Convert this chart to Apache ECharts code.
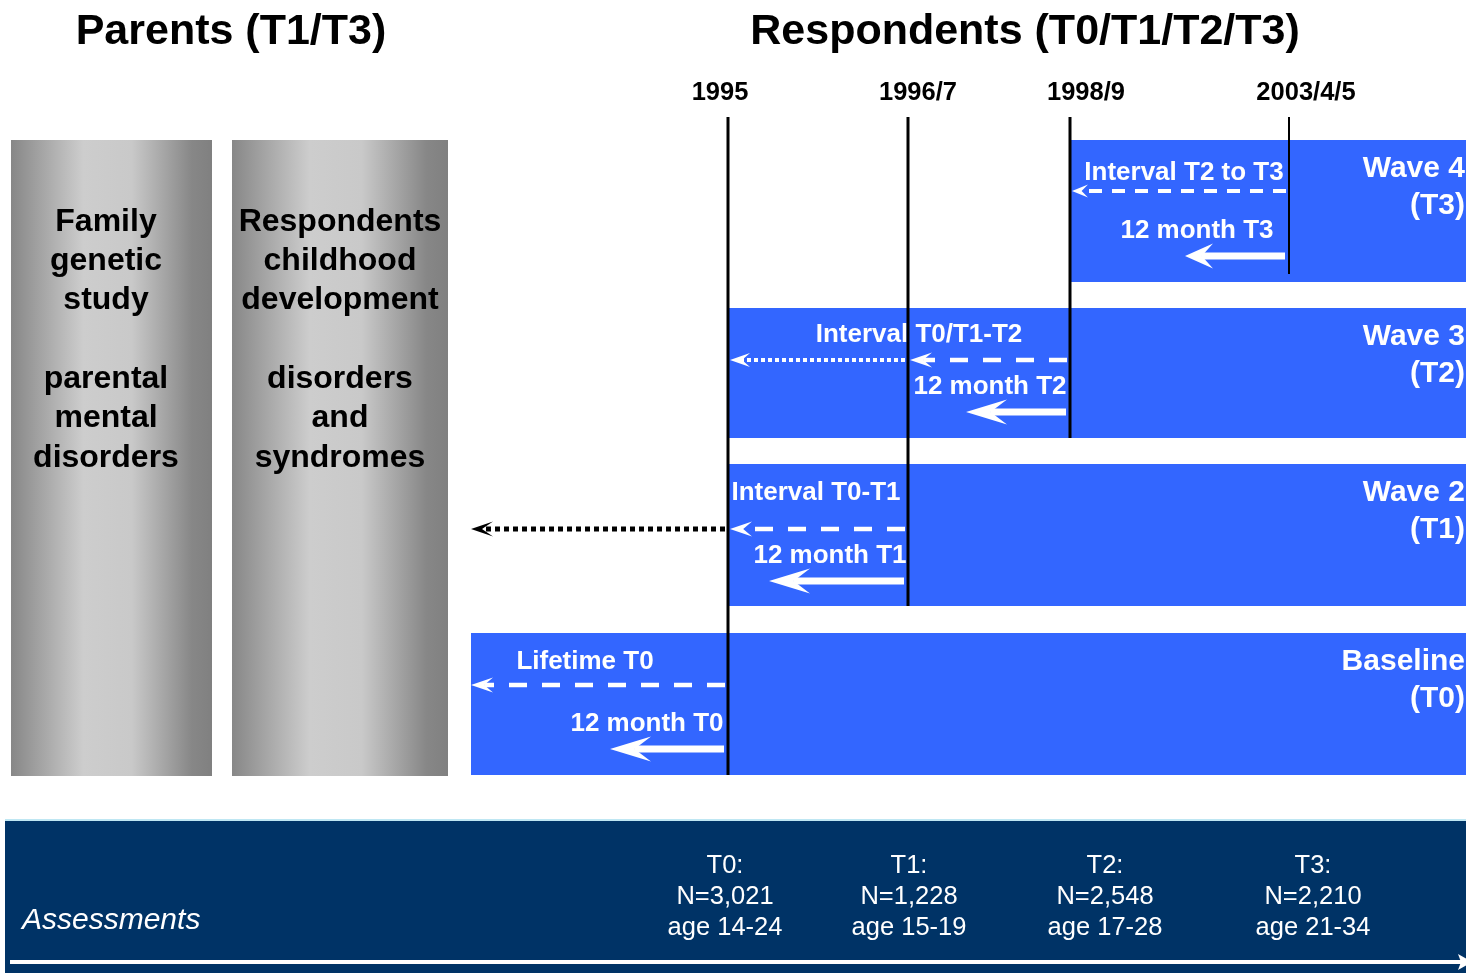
<!DOCTYPE html>
<html>
<head>
<meta charset="utf-8">
<script src="https://cdn.jsdelivr.net/npm/echarts@6/dist/echarts.min.js"></script>
<style>
  html, body { margin: 0; padding: 0; background: #ffffff; }
  #chart { width: 1466px; height: 973px; }
</style>
</head>
<body>
<div id="chart"></div>
<script>
// ---------------- study design data ----------------
const milestones = ['1995', '1996/7', '1998/9', '2003/4/5'];
const waveNames = ['Wave 4', 'Wave 3', 'Wave 2', 'Baseline'];
const waveCodes = ['(T3)', '(T2)', '(T1)', '(T0)'];
const waveStart = ['1998/9', '1995', '1995', 'lifetime'];        // where each wave's band begins
const waveAssessed = ['2003/4/5', '1998/9', '1996/7', '1995'];   // when each wave was interviewed
const intervalLabels = ['Interval T2 to T3', 'Interval T0/T1-T2', 'Interval T0-T1', 'Lifetime T0'];
const twelveMonthLabels = ['12 month T3', '12 month T2', '12 month T1', '12 month T0'];
// recall windows: wave, from, back to, line kind
const recallSpans = [
  ['Wave 4', '2003/4/5', '1998/9', 'dashedCompact'],
  ['Wave 3', '1998/9', '1996/7', 'dashed'],
  ['Wave 3', '1996/7', '1995', 'dotted'],
  ['Wave 2', '1996/7', '1995', 'dashed'],
  ['Wave 2', '1995', 'lifetime', 'dottedBlack'],
  ['Baseline', '1995', 'lifetime', 'dashed']
];
const assessmentCodes = ['T0:', 'T1:', 'T2:', 'T3:'];
const sampleSizes = ['N=3,021', 'N=1,228', 'N=2,548', 'N=2,210'];
const ageRanges = ['age 14-24', 'age 15-19', 'age 17-28', 'age 21-34'];
const parentPanels = [
  ['Family', 'genetic', 'study', '', 'parental', 'mental', 'disorders'],
  ['Respondents', 'childhood', 'development', '', 'disorders', 'and', 'syndromes']
];

// ---------------- layout (schematic axis units) ----------------
const timeX = { lifetime: 471, '1995': 728, '1996/7': 908, '1998/9': 1070, '2003/4/5': 1289, end: 1466 };
const rowSpan = [[140, 282], [308, 438], [464, 606], [633, 775]];
const recallY = [191, 360, 529, 685];
const intervalLabelPos = [[1184, 173], [919, 335], [816, 493], [585, 662]];
const twelveLabelPos = [[1197, 231], [990, 387], [830, 556], [647, 724]];
const twelveArrowY = [256, 412, 581, 749];
const twelveArrowLen = [100, 100, 135, 114];
const yearLabelX = [720, 918, 1086, 1306];
const lineEndInset = [0, 0, 0, 8];
const panelSpan = [[11, 212], [232, 448]];
const panelTextX = [106, 340];
const assessmentX = [725, 909, 1105, 1313];

const FONT = '"Liberation Sans", Arial, Helvetica, sans-serif';
const BLUE = '#3366ff';
const NAVY = '#003366';

const arrowKinds = {
  dashed:        { color: '#fff', width: 4.5, dash: [18, 15], headL: 22, headH: 15, notch: 0.6 },
  dashedCompact: { color: '#fff', width: 4,   dash: [13, 10], headL: 16, headH: 13, notch: 0.6 },
  dotted:        { color: '#fff', width: 4,   dash: [4, 3],   headL: 20, headH: 14, notch: 0.6 },
  dottedBlack:   { color: '#000', width: 5,   dash: [5, 4],   headL: 22, headH: 15, notch: 0.5 },
  solid:         { color: '#fff', width: 7,   dash: null,     headL: 41, headH: 25, notch: 0.6 },
  solidCompact:  { color: '#fff', width: 7,   dash: null,     headL: 28, headH: 25, notch: 0.6 }
};

// arrows: [tail, tip, y, kind]
const arrowData = recallSpans.map(function (s) {
  const w = waveNames.indexOf(s[0]);
  const tail = timeX[s[1]] - 3;
  const tip = timeX[s[2]] + (s[2] === 'lifetime' ? 0 : 2);
  return [tail, tip, recallY[w], s[3]];
}).concat(waveAssessed.map(function (m, w) {
  const tail = timeX[m] - 4;
  return [tail, tail - twelveArrowLen[w], twelveArrowY[w], w === 0 ? 'solidCompact' : 'solid'];
}));

function txt(x, y, text, size, opts) {
  opts = opts || {};
  return {
    type: 'text', x: x, y: y,
    style: {
      text: text,
      fill: opts.fill || '#fff',
      font: (opts.italic ? 'italic ' : '') + (opts.bold === false ? 'normal ' : 'bold ') + size + 'px ' + FONT,
      align: opts.align || 'center',
      verticalAlign: 'middle',
      lineHeight: opts.lineHeight
    }
  };
}

const chart = echarts.init(document.getElementById('chart'), null, { renderer: 'canvas' });

chart.setOption({
  animation: false,
  backgroundColor: '#ffffff',
  grid: { left: 0, right: 0, top: 0, bottom: 0 },
  xAxis: { type: 'value', min: 0, max: 1466, show: false },
  yAxis: { type: 'value', min: 0, max: 973, inverse: true, show: false },
  graphic: [
    { type: 'text', x: 231, y: 32, z: 100, style: { text: 'Parents (T1/T3)', font: 'bold 43px ' + FONT, fill: '#000', align: 'center', verticalAlign: 'middle' } },
    { type: 'text', x: 1025, y: 32, z: 100, style: { text: 'Respondents (T0/T1/T2/T3)', font: 'bold 43px ' + FONT, fill: '#000', align: 'center', verticalAlign: 'middle' } }
  ],
  series: [
    // grey panels for the parent study
    {
      type: 'custom', name: 'parents', z: 1,
      data: parentPanels.map(function (lines, i) { return [panelSpan[i][0], panelSpan[i][1], 140, 776]; }),
      renderItem: function (params, api) {
        const i = params.dataIndex;
        const a = api.coord([api.value(0), api.value(2)]);
        const b = api.coord([api.value(1), api.value(3)]);
        const tx = api.coord([panelTextX[i], 0])[0];
        return {
          type: 'group', children: [
            { type: 'rect', shape: { x: a[0], y: a[1], width: b[0] - a[0], height: b[1] - a[1] },
              style: { fill: { type: 'linear', x: 0, y: 0, x2: 1, y2: 0, colorStops: [
                { offset: 0, color: '#878787' }, { offset: 0.36, color: '#cdcdcd' },
                { offset: 0.6, color: '#c9c9c9' }, { offset: 0.9, color: '#878787' }, { offset: 1, color: '#808080' }] } } },
            txt(tx, 222 + 39.3 * 3, parentPanels[i].join('\n'), 32, { fill: '#000', lineHeight: 39.3 })
          ]
        };
      }
    },
    // wave bands
    {
      type: 'custom', name: 'waves', z: 2,
      data: waveNames.map(function (n, i) { return [timeX[waveStart[i]], timeX.end, rowSpan[i][0], rowSpan[i][1]]; }),
      renderItem: function (params, api) {
        const i = params.dataIndex;
        const a = api.coord([api.value(0), api.value(2)]);
        const b = api.coord([api.value(1), api.value(3)]);
        const il = api.coord(intervalLabelPos[i]);
        const tl = api.coord(twelveLabelPos[i]);
        return {
          type: 'group', children: [
            { type: 'rect', shape: { x: a[0], y: a[1], width: b[0] - a[0], height: b[1] - a[1] }, style: { fill: BLUE } },
            txt(b[0] - 1, a[1] + 29, waveNames[i], 30, { align: 'right' }),
            txt(b[0] - 1, a[1] + 66, waveCodes[i], 30, { align: 'right' }),
            txt(il[0], il[1], intervalLabels[i], 26),
            txt(tl[0], tl[1], twelveMonthLabels[i], 26)
          ]
        };
      }
    },
    // recall arrows
    {
      type: 'custom', name: 'recall', z: 3,
      data: arrowData,
      renderItem: function (params, api) {
        const k = arrowKinds[arrowData[params.dataIndex][3]];
        const t = api.coord([api.value(0), api.value(2)]);
        const p = api.coord([api.value(1), api.value(2)]);
        const y = t[1];
        const base = p[0] + k.headL * k.notch;
        return {
          type: 'group', children: [
            { type: 'line', shape: { x1: t[0], y1: y, x2: base, y2: y },
              style: { stroke: k.color, lineWidth: k.width, lineDash: k.dash, lineCap: 'butt' } },
            { type: 'polygon', shape: { points: [[p[0], y], [p[0] + k.headL, y - k.headH / 2], [base, y], [p[0] + k.headL, y + k.headH / 2]] },
              style: { fill: k.color } }
          ]
        };
      }
    },
    // milestone lines and years
    {
      type: 'custom', name: 'milestones', z: 4,
      data: milestones.map(function (m, i) {
        const row = waveAssessed.indexOf(m);
        return [timeX[m], 117, rowSpan[row][1] - lineEndInset[i]];
      }),
      renderItem: function (params, api) {
        const i = params.dataIndex;
        const a = api.coord([api.value(0), api.value(1)]);
        const b = api.coord([api.value(0), api.value(2)]);
        const lp = api.coord([yearLabelX[i], 93]);
        return {
          type: 'group', children: [
            { type: 'line', shape: { x1: a[0], y1: a[1], x2: b[0], y2: b[1] },
              style: { stroke: '#000', lineWidth: i === 3 ? 2 : 3 } },
            txt(lp[0], lp[1], milestones[i], 25.5, { fill: '#000' })
          ]
        };
      }
    },
    // assessments band
    {
      type: 'custom', name: 'assessments', z: 5,
      data: assessmentCodes.map(function (c, i) { return [assessmentX[i], 897]; }),
      renderItem: function (params, api) {
        const i = params.dataIndex;
        const p = api.coord([api.value(0), api.value(1)]);
        const children = [];
        if (i === 0) {
          const a = api.coord([5, 820]);
          const b = api.coord([1466, 973]);
          const ay = api.coord([0, 962])[1];
          children.push(
            { type: 'rect', shape: { x: a[0], y: a[1], width: b[0] - a[0], height: b[1] - a[1] }, style: { fill: NAVY } },
            { type: 'line', shape: { x1: a[0], y1: a[1], x2: b[0], y2: a[1] }, style: { stroke: '#bfe7f3', lineWidth: 2 } },
            { type: 'line', shape: { x1: 10, y1: ay, x2: b[0] - 4, y2: ay }, style: { stroke: '#fff', lineWidth: 4 } },
            { type: 'polygon', shape: { points: [[b[0] + 6, ay], [b[0] - 8, ay - 8], [b[0] - 5, ay], [b[0] - 8, ay + 8]] }, style: { fill: '#fff' } },
            txt(22, api.coord([0, 921])[1], 'Assessments', 30, { align: 'left', bold: false, italic: true })
          );
        }
        children.push(txt(p[0], p[1], assessmentCodes[i] + '\n' + sampleSizes[i] + '\n' + ageRanges[i], 25.5, { bold: false, lineHeight: 31 }));
        return { type: 'group', children: children };
      }
    }
  ]
});
</script>
</body>
</html>
